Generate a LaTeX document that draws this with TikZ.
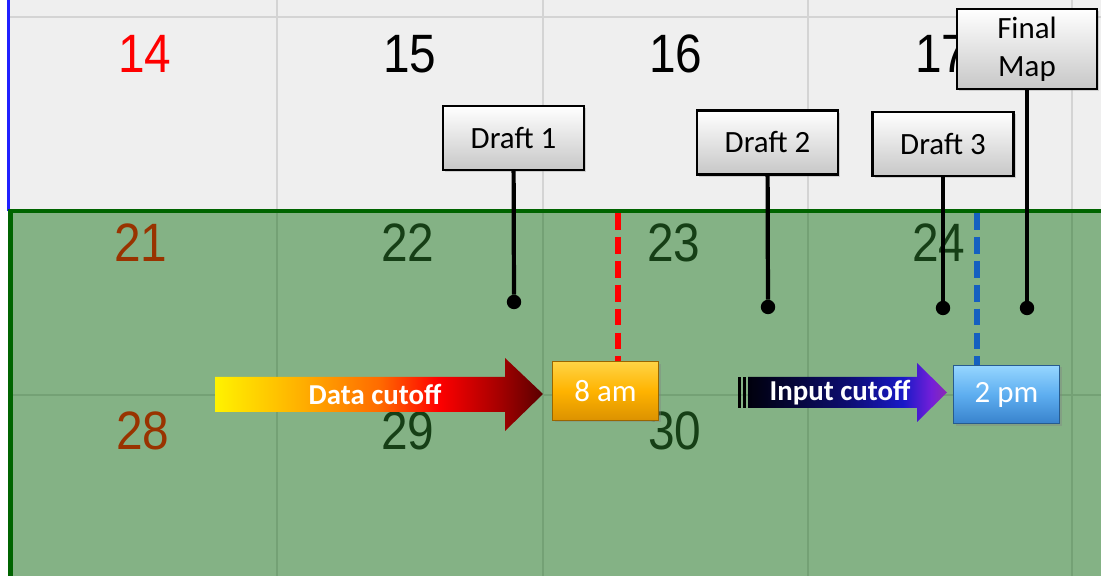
\documentclass[tikz,border=0pt]{standalone}
\usepackage{fontspec}
\setmainfont{Carlito}
\newfontfamily\numfont{Liberation Sans}
\usepackage{graphicx}
\usetikzlibrary{shadows}

\definecolor{cellgray}{HTML}{EFEFEF}
\definecolor{gridgray}{HTML}{D4D4D4}
\definecolor{cellgreen}{HTML}{84B285}
\definecolor{gridgreen}{HTML}{74A175}
\definecolor{bordergreen}{HTML}{006400}
\definecolor{numbrown}{HTML}{993300}
\definecolor{numgreen}{HTML}{163F16}
\definecolor{edgeblue}{HTML}{2020FF}
\definecolor{cutblue}{HTML}{1560C0}
\definecolor{amtop}{HTML}{FFD445}
\definecolor{ammid}{HTML}{FFB300}
\definecolor{ambot}{HTML}{DC9200}
\definecolor{pmtop}{HTML}{96D6FF}
\definecolor{pmmid}{HTML}{5EAEF0}
\definecolor{pmbot}{HTML}{3882CC}

\pgfdeclarehorizontalshading{datacut}{100bp}{color(0bp)=(yellow);
  rgb(25bp)=(1,0.95,0); rgb(38bp)=(1,0.69,0); rgb(50bp)=(1,0.42,0);
  rgb(59bp)=(1,0,0); rgb(68bp)=(0.66,0,0); rgb(75bp)=(0.35,0,0);
  rgb(100bp)=(0.35,0,0)}
\pgfdeclarehorizontalshading{inputcut}{100bp}{color(0bp)=(black);
  rgb(25bp)=(0,0,0.05); rgb(35bp)=(0.02,0.02,0.2); rgb(50bp)=(0.05,0.05,0.44);
  rgb(64bp)=(0.1,0.1,0.78); rgb(71bp)=(0.45,0.12,0.85); rgb(75bp)=(0.55,0.17,0.7);
  rgb(100bp)=(0.55,0.17,0.7)}

\newcommand\tallnum[1]{\scalebox{1}[1.13]{#1}}

\begin{document}
\begin{tikzpicture}[x=0.025cm, y=-0.025cm,
  daynum/.style={font=\numfont\fontsize{34}{34}\selectfont, inner sep=0pt},
  draftbox/.style={draw=black, line width=1.6pt, top color=white,
                   bottom color=black!22, align=center, inner sep=2pt,
                   minimum width=3.52cm, minimum height=1.6cm,
                   font=\fontsize{22}{27}\selectfont,
                   drop shadow={shadow xshift=1.5pt, shadow yshift=-1.5pt,
                                opacity=.3}},
  timebox/.style={minimum width=2.65cm, minimum height=1.46cm, text=white,
                  inner sep=0pt, font=\fontsize{22}{22}\selectfont,
                  drop shadow={shadow xshift=1.5pt, shadow yshift=-1.5pt,
                               opacity=.35}},
  cutlabel/.style={text=white, inner sep=0pt,
                   font=\bfseries\fontsize{20.5}{20.5}\selectfont},
  pinline/.style={line width=3pt},
  pindot/.style={circle, fill=black, minimum size=0.36cm, inner sep=0pt},
  cutline/.style={line width=4.2pt, dash pattern=on 12pt off 5pt},
]
\useasboundingbox (0,0) rectangle (1101,576);

% calendar background
\fill[cellgray] (9,0) rectangle (1101,211);
\fill[cellgreen] (9,211) rectangle (1101,576);
\foreach \gx in {277,543,808,1072} {
  \draw[gridgray, line width=1.6pt] (\gx,0) -- (\gx,211);
  \draw[gridgreen, line width=1.6pt] (\gx,211) -- (\gx,576);
}
\draw[gridgray, line width=1.6pt] (9,17) -- (1101,17);
\draw[gridgreen, line width=1.6pt] (9,395) -- (1101,395);
\draw[edgeblue, line width=2pt] (8.5,0) -- (8.5,211);
\draw[bordergreen, line width=3.2pt] (10.5,576) -- (10.5,211) -- (1101,211);

% day numbers
\node[daynum, text=red]       (d14) at (145,54)  {\tallnum{14}};
\node[daynum, text=black]     (d15) at (410,54)  {\tallnum{15}};
\node[daynum, text=black]     (d16) at (676,54)  {\tallnum{16}};
\node[daynum, text=black]     (d17) at (942,54)  {\tallnum{17}};
\node[daynum, text=numbrown]  (d21) at (141,243) {\tallnum{21}};
\node[daynum, text=numgreen]  (d22) at (408,243) {\tallnum{22}};
\node[daynum, text=numgreen]  (d23) at (674,243) {\tallnum{23}};
\node[daynum, text=numgreen]  (d24) at (939,243) {\tallnum{24}};
\node[daynum, text=numbrown]  (d28) at (143,431) {\tallnum{28}};
\node[daynum, text=numgreen]  (d29) at (408,431) {\tallnum{29}};
\node[daynum, text=numgreen]  (d30) at (675,431) {\tallnum{30}};

% cutoff times
\node[timebox, top color=amtop, bottom color=ambot, middle color=ammid,
      draw=ambot!70!black, line width=0.6pt] (am8) at (605.5,391) {8 am};
\node[timebox, top color=pmtop, bottom color=pmbot, middle color=pmmid,
      draw=pmbot!70!black, line width=0.6pt] (pm2) at (1006.5,394.5) {2 pm};

\coordinate (redtop)  at (618,213);
\coordinate (bluetop) at (977,213);
\draw[cutline, red]     (redtop)  -- (redtop |- am8.north);
\draw[cutline, cutblue] (bluetop) -- (bluetop |- pm2.north);

% cutoff arrows
\shade[shading=datacut] (215,377) -- (505,377) -- (505,358) -- (543,394)
  -- (505,431) -- (505,412) -- (215,412) -- cycle;
\node[cutlabel] (datacut) at (375,394) {Data cutoff};

\fill[black] (738,377) rectangle (740.5,408);
\fill[black] (743,377) rectangle (745.5,408);
\shade[shading=inputcut] (748,377) -- (917,377) -- (917,363) -- (947,392.5)
  -- (917,422) -- (917,408) -- (748,408) -- cycle;
\node[cutlabel] (inputcut) at (840,393) {Input cutoff};

% map releases
\node[draftbox] (draft1) at (513.5,138) {Draft 1};
\node[draftbox] (draft2) at (767.5,142.5) {Draft 2};
\node[draftbox] (draft3) at (943,144) {Draft 3};
\node[draftbox, minimum width=3.5cm, minimum height=2cm] (final) at (1027,49)
  {Final\\Map};

\node[pindot] (pin1) at (514,302) {};
\node[pindot] (pin2) at (768,307) {};
\node[pindot] (pin3) at (943,308) {};
\node[pindot] (pin4) at (1027,308) {};

\draw[pinline] (draft1) -- (pin1);
\draw[pinline] (draft2) -- (pin2);
\draw[pinline] (draft3) -- (pin3);
\draw[pinline] (final)  -- (pin4);
\end{tikzpicture}
\end{document}
